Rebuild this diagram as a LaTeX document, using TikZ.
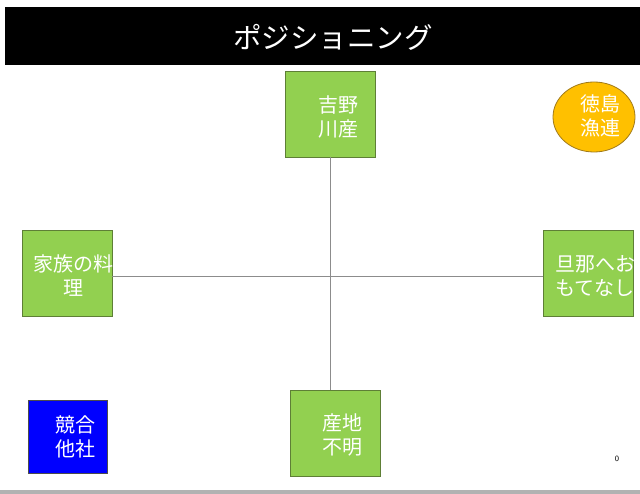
\documentclass[tikz,border=0pt]{standalone}
\usepackage{fontspec}
\usetikzlibrary{shapes.geometric}
\newfontfamily\jp{Noto Sans CJK JP}
\definecolor{grn}{HTML}{92D050}
\definecolor{grnb}{HTML}{5E7F36}
\definecolor{org}{HTML}{FFC000}
\definecolor{orgb}{HTML}{A07A1A}
\tikzset{
  gbox/.style={draw=grnb, fill=grn, line width=0.8pt, minimum width=90pt, minimum height=86pt, inner sep=0pt},
  btxt/.style={text=white, font=\jp\fontsize{20}{24}\selectfont, align=center, inner sep=0pt},
  axis/.style={draw=gray!90, line width=1pt}
}
\begin{document}
\begin{tikzpicture}[x=1pt,y=-1pt]
\useasboundingbox (0,0) rectangle (640,494);
\fill[white] (0,0) rectangle (640,494);
% title bar
\node[fill=black, minimum width=635pt, minimum height=58pt, inner sep=0pt, anchor=north west] (bar) at (5,7) {};
\node[text=white, font=\jp\fontsize{28.5}{32}\selectfont, inner sep=0pt] (title) at (333,37) {ポジショニング};
% bottom grey strip
\fill[gray!60] (0,490) rectangle (640,494);
% boxes
\node[gbox] (top) at (330,114) {};
\node[gbox] (left) at (67,273) {};
\node[gbox] (right) at (588,273) {};
\node[gbox] (bot) at (335,433) {};
% axes
\draw[axis] (top.south) -- (top.south |- bot.north);
\draw[axis] (left.east |- 0,277) coordinate (le) -- (right.west |- 0,277) coordinate (re);
% texts
\node[btxt] (ttop) at (338,117) {吉野\\川産};
\node[btxt] (tbot) at (342,435) {産地\\不明};
\begin{scope}
\clip (left.south west) rectangle (left.north east);
\node[btxt] (tleft) at (73,276) {家族の料\\理};
\end{scope}
\begin{scope}
\clip (right.south west) rectangle (634,230);
\node[btxt] (tright) at (595,276) {旦那へお\\もてなし};
\end{scope}
% blue box
\node[draw=black!70, fill=blue, line width=0.6pt, minimum width=79pt, minimum height=73pt, inner sep=0pt] (comp) at (67.5,436.5) {};
\node[btxt] (tcomp) at (75,437) {競合\\他社};
% orange circle
\node[ellipse, draw=orgb, fill=org, line width=0.8pt, minimum width=82pt, minimum height=70pt, inner sep=0pt] (toku) at (594,117) {};
\node[btxt] (ttoku) at (600,116) {徳島\\漁連};
% page number
\node[font=\sffamily\fontsize{8}{9}\selectfont, inner sep=0pt] (pg) at (617,459) {0};
\end{tikzpicture}
\end{document}
